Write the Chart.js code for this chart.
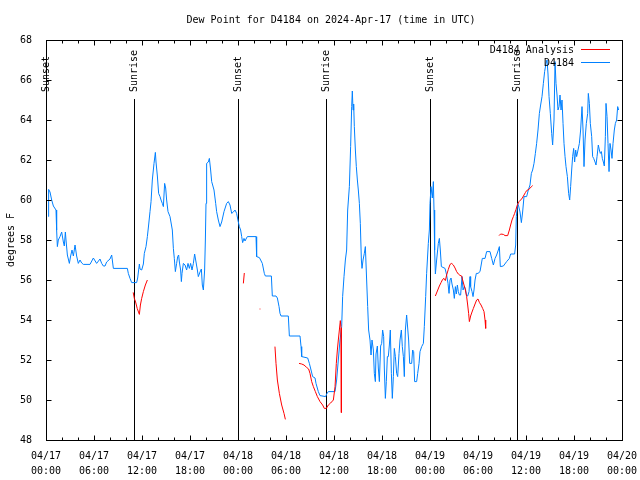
<!DOCTYPE html>
<html><head><meta charset="utf-8">
<script src="https://cdn.jsdelivr.net/npm/chart.js@4.4.1/dist/chart.umd.min.js"></script>
<style>html,body{margin:0;padding:0;background:#fff;}canvas{display:block;}</style>
</head><body>
<canvas id="c" width="640" height="480"></canvas>
<script>
const TITLE = 'Dew Point for D4184 on 2024-Apr-17 (time in UTC)';
const Y_LABEL = 'degrees F';
const xTickDates = ['04/17','04/17','04/17','04/17','04/18','04/18','04/18','04/18','04/19','04/19','04/19','04/19','04/20'];
const xTickTimes = ['00:00','06:00','12:00','18:00','00:00','06:00','12:00','18:00','00:00','06:00','12:00','18:00','00:00'];
const eventHours = [0.05, 11.04, 24.04, 35.04, 48.04, 58.9];
const eventLabels = ['Sunset','Sunrise','Sunset','Sunrise','Sunset','Sunrise'];
const seriesNames = ['D4184 Analysis', 'D4184'];

// hours since 04/17 00:00 UTC
const blueHours = [
0.29,0.33,0.5,0.71,0.92,1.25,1.33,1.42,1.54,1.75,1.96,2.17,2.29,2.42,2.5,2.67,2.92,3.08,3.25,3.42,3.63,3.83,4.04,4.25,4.46,4.67,5.5,5.92,6.33,6.75,6.96,7.17,7.38,7.58,8.0,8.21,8.42,10.17,10.29,10.5,10.71,11.33,11.46,11.67,11.75,11.96,12.17,12.29,12.5,12.67,12.83,13.0,13.13,13.29,13.5,13.67,13.75,13.92,14.08,14.25,14.38,14.54,14.67,14.83,14.96,15.08,15.25,15.5,15.79,15.92,16.04,16.17,16.33,16.46,16.58,16.67,16.83,16.92,17.0,17.17,17.38,17.58,17.75,17.92,18.08,18.25,18.42,18.58,18.75,18.92,19.04,19.25,19.42,19.54,19.67,19.83,19.92,20.0,20.08,20.29,20.42,20.58,20.71,20.83,21.0,21.21,21.33,21.54,21.75,21.96,22.25,22.58,22.79,23.0,23.21,23.42,23.63,23.83,24.04,24.17,24.33,24.46,24.58,24.75,24.88,25.0,25.17,26.25,26.33,26.67,26.83,27.04,27.29,27.42,28.17,28.29,28.75,28.92,29.13,29.25,29.38,30.29,30.42,31.75,31.88,31.96,32.71,32.92,33.13,33.33,33.63,33.75,34.04,34.25,34.96,35.08,35.29,36.13,36.33,36.54,36.75,36.96,37.08,37.25,37.42,37.58,37.71,37.92,38.08,38.21,38.29,38.38,38.46,38.54,38.67,38.79,38.92,39.04,39.17,39.29,39.42,39.5,39.63,39.79,39.92,40.08,40.21,40.33,40.5,40.63,40.75,40.92,41.04,41.17,41.25,41.42,41.54,41.67,41.83,41.96,42.08,42.21,42.29,42.42,42.54,42.67,42.79,42.92,43.04,43.17,43.29,43.42,43.54,43.67,43.83,43.96,44.13,44.25,44.42,44.54,44.67,44.79,44.92,45.08,45.21,45.33,45.46,45.71,45.83,45.96,46.08,46.33,46.46,46.63,46.75,46.96,47.17,47.29,47.46,47.58,47.79,47.92,48.0,48.13,48.29,48.42,48.5,48.58,48.67,48.83,49.04,49.17,49.29,49.42,49.88,50.08,50.25,50.38,50.5,50.63,50.75,50.92,51.04,51.17,51.29,51.42,51.54,51.67,51.83,52.0,52.13,52.29,52.42,52.58,52.71,52.88,53.0,53.08,53.25,53.38,53.5,53.63,53.79,54.0,54.25,54.54,54.88,55.08,55.5,55.71,55.92,56.13,56.33,56.54,56.67,56.79,57.17,57.58,57.92,58.08,58.58,58.71,58.79,58.96,59.08,59.25,59.42,59.58,59.75,60.08,60.29,60.5,60.67,60.83,61.0,61.17,61.33,61.5,61.67,61.83,62.0,62.17,62.33,62.5,62.63,62.75,62.88,63.04,63.21,63.33,63.5,63.63,63.75,63.88,64.0,64.13,64.25,64.38,64.5,64.63,64.75,64.88,65.0,65.17,65.33,65.46,65.58,65.71,65.83,65.96,66.08,66.21,66.33,66.5,66.67,66.83,67.0,67.13,67.25,67.38,67.54,67.71,67.79,67.92,68.04,68.21,68.33,68.46,68.63,68.75,68.88,69.04,69.17,69.29,69.42,69.54,69.67,69.79,69.92,70.0,70.13,70.25,70.38,70.5,70.63,70.75,70.88,71.04,71.17,71.33,71.46,71.58
];
const blueValues = [
59.17,60.53,60.4,60.0,59.7,59.5,58.5,57.67,58.0,58.17,58.4,57.9,57.7,58.4,58.0,57.25,56.83,57.2,57.5,57.2,57.75,57.2,56.83,57.0,56.85,56.78,56.78,57.1,56.83,57.05,56.83,56.7,56.7,56.9,57.05,57.25,56.58,56.58,56.33,56.08,55.87,55.87,56.1,56.8,56.55,56.5,56.8,57.33,57.67,58.17,58.75,59.42,59.92,61.0,61.83,62.38,61.9,61.2,60.33,60.17,60.0,59.83,59.67,60.83,60.6,60.0,59.42,59.17,58.5,57.58,57.08,56.42,56.83,57.17,57.25,56.9,56.5,55.92,56.33,56.83,56.75,56.5,56.83,56.58,56.83,56.5,56.83,57.3,56.9,56.5,56.17,56.4,56.55,55.75,55.5,56.5,58.0,59.83,61.83,61.9,62.08,61.5,60.92,60.75,60.5,59.83,59.42,59.0,58.67,58.9,59.42,59.83,59.92,59.75,59.33,59.4,59.5,59.33,58.9,58.67,58.5,58.17,57.87,58.08,57.95,58.05,58.17,58.17,57.17,57.12,57.0,56.83,56.33,56.2,56.2,55.2,55.2,55.1,54.67,54.33,54.2,54.2,53.2,53.2,52.67,52.17,52.1,51.83,51.5,51.17,51.1,50.83,50.42,50.22,50.17,50.3,50.42,50.42,51.0,52.0,53.0,53.67,55.17,56.17,57.0,57.5,59.5,60.67,62.67,64.67,65.45,64.5,64.8,63.67,62.5,61.67,61.0,60.5,59.83,58.83,57.0,56.58,57.0,57.33,57.67,56.0,54.67,53.5,53.0,52.25,53.0,52.5,51.33,50.92,52.3,52.7,51.6,50.92,52.7,52.83,53.5,53.17,51.6,50.08,50.92,52.17,52.17,52.75,53.5,51.33,50.08,51.17,52.58,52.17,51.33,51.17,52.33,53.0,53.5,52.67,52.17,51.17,53.5,54.25,53.6,53.0,51.83,51.83,52.5,52.42,50.92,50.92,51.33,51.83,52.42,52.67,52.83,53.67,55.17,56.33,57.83,58.5,59.83,60.67,60.1,60.92,59.5,57.5,56.3,57.0,57.83,58.08,57.5,56.67,56.58,56.25,55.83,55.33,56.0,56.1,55.8,55.5,55.08,55.67,55.3,55.75,55.42,55.25,55.25,56.17,55.5,55.67,55.58,55.2,55.2,55.42,56.17,55.67,55.42,55.17,55.5,56.0,56.33,56.33,56.42,57.08,57.08,57.42,57.42,57.08,56.75,57.08,57.25,57.5,57.67,56.67,56.7,56.92,57.08,57.3,57.3,57.75,59.17,59.83,59.7,59.4,58.87,59.4,60.17,60.17,60.5,60.75,61.33,61.5,61.83,62.33,62.83,63.5,64.33,64.75,65.17,65.83,66.42,66.83,67.0,66.3,65.17,64.33,63.33,62.75,64.0,66.92,65.83,65.25,64.5,64.67,65.25,64.5,65.0,63.83,62.83,62.17,61.67,61.17,60.33,60.0,60.67,61.5,62.17,62.58,61.9,62.5,62.17,62.5,62.83,63.5,64.67,63.5,61.67,63.0,63.83,64.33,65.33,64.83,63.83,63.17,62.17,62.08,61.9,61.75,62.17,62.75,62.5,62.33,62.42,62.08,61.9,61.7,63.17,64.83,64.17,62.83,61.42,62.83,62.5,62.08,62.83,63.5,63.83,64.0,64.67,64.5
];

// null values separate the analysis segments
const redHours = [
10.9,11.04,11.2,11.4,11.67,11.8,11.96,12.17,12.42,12.67, 13.0,
24.67,24.79, 25.5,
26.7,26.8, 27.5,
28.62,28.75,28.92,29.17,29.46,29.75,29.92, 30.5,
31.63,31.96,32.25,32.58,32.83,33.0,33.21,33.42,33.67,33.92,34.25,34.58,34.79,35.04,35.29,35.58,35.92,36.13,36.29,36.42,36.54,36.67,36.79,36.88,36.92, 40.0,
48.67,48.92,49.17,49.38,49.58,49.75,49.92,50.08,50.29,50.5,50.71,50.92,51.13,51.33,51.54,51.75,51.96,52.08,52.25,52.42,52.58,52.71,52.83,52.92,53.08,53.25,53.42,53.63,53.83,54.0,54.17,54.38,54.58,54.75,54.88,54.96, 56.0,
56.63,56.83,57.17,57.38,57.71,57.92,58.08,58.25,58.42,58.58,58.75,58.92,59.13,59.33,59.54,59.75,59.92,60.08,60.29,60.5,60.67,60.83
];
const redValues = [
55.38,55.08,54.9,54.58,54.28,54.75,55.08,55.42,55.75,56.0, null,
55.83,56.35, null,
54.55,54.55, null,
52.67,51.83,51.0,50.33,49.75,49.33,49.03, null,
51.83,51.8,51.75,51.63,51.55,51.33,50.92,50.67,50.42,50.17,49.92,49.75,49.58,49.58,49.75,49.85,50.0,50.67,51.83,52.5,53.0,53.5,53.97,53.6,49.37, null,
55.2,55.45,55.7,55.87,56.03,56.08,55.97,56.25,56.53,56.78,56.83,56.75,56.6,56.42,56.3,56.23,56.2,56.0,55.75,55.5,55.17,54.75,54.33,53.92,54.2,54.4,54.58,54.8,55.0,55.05,54.88,54.75,54.58,54.42,54.0,53.58, null,
58.22,58.3,58.28,58.22,58.22,58.5,58.75,59.0,59.17,59.33,59.53,59.75,59.92,60.0,60.1,60.25,60.37,60.47,60.52,60.58,60.67,60.72
];

const FONT = 'DejaVu Sans Mono';
Chart.defaults.font.family = FONT;
Chart.defaults.font.size = 10;
Chart.defaults.color = '#000';

const overlay = {
  id: 'overlay',
  beforeDatasetsDraw(chart) {
    const ctx = chart.ctx, a = chart.chartArea, xs = chart.scales.x;
    ctx.save();
    ctx.strokeStyle = '#000';
    ctx.lineWidth = 1;
    ctx.font = '10px ' + FONT;
    ctx.fillStyle = '#000';
    eventHours.forEach((h, i) => {
      const px = Math.round(xs.getPixelForValue(h)) + 0.5;
      ctx.beginPath();
      ctx.moveTo(px, 99);
      ctx.lineTo(px, a.bottom);
      ctx.stroke();
      ctx.save();
      ctx.translate(px, 92);
      ctx.rotate(-Math.PI / 2);
      ctx.textAlign = 'left';
      ctx.textBaseline = 'middle';
      ctx.fillText(eventLabels[i], 0, 0);
      ctx.restore();
    });
    ctx.restore();
  },
  afterDatasetsDraw(chart) {
    const ctx = chart.ctx, a = chart.chartArea, xs = chart.scales.x, ys = chart.scales.y;
    ctx.save();
    ctx.strokeStyle = '#000';
    ctx.lineWidth = 1;
    const L = Math.round(a.left) + 0.5, R = Math.round(a.right) + 0.5;
    const T = Math.round(a.top) + 0.5, B = Math.round(a.bottom) + 0.5;
    ctx.beginPath();
    for (let h = 0; h <= 72; h += 2) {
      const px = Math.round(xs.getPixelForValue(h)) + 0.5;
      const len = (h % 6 === 0) ? 5 : 3;
      ctx.moveTo(px, B); ctx.lineTo(px, B - len);
      ctx.moveTo(px, T); ctx.lineTo(px, T + len);
    }
    for (let v = 48; v <= 68; v += 2) {
      const py = Math.round(ys.getPixelForValue(v)) + 0.5;
      ctx.moveTo(L, py); ctx.lineTo(L + 5, py);
      ctx.moveTo(R, py); ctx.lineTo(R - 5, py);
    }
    ctx.stroke();
    ctx.strokeRect(L, T, R - L, B - T);
    // legend
    ctx.font = '10px ' + FONT;
    ctx.textAlign = 'right';
    ctx.textBaseline = 'middle';
    ctx.fillStyle = '#000';
    chart.data.datasets.forEach((ds, i) => {
      const y = 50 + i * 13;
      ctx.fillText(ds.label, 574, y);
      ctx.strokeStyle = ds.borderColor;
      ctx.beginPath();
      ctx.moveTo(581, Math.round(y) - 0.5);
      ctx.lineTo(610, Math.round(y) - 0.5);
      ctx.stroke();
    });
    // title
    ctx.textAlign = 'center';
    ctx.fillStyle = '#000';
    ctx.fillText(TITLE, 331, 20);
    ctx.restore();
  }
};

new Chart(document.getElementById('c'), {
  type: 'line',
  data: {
    datasets: [
      {
        label: seriesNames[0],
        data: redHours.map((h, i) => ({x: h, y: redValues[i]})),
        borderColor: '#ff0000',
        borderWidth: 1,
        pointRadius: 0,
        tension: 0,
        spanGaps: false
      },
      {
        label: seriesNames[1],
        data: blueHours.map((h, i) => ({x: h, y: blueValues[i]})),
        borderColor: '#0080ff',
        borderWidth: 1,
        pointRadius: 0,
        tension: 0,
        spanGaps: false
      }
    ]
  },
  options: {
    responsive: false,
    animation: false,
    events: [],
    layout: {padding: {top: 40, right: 18, left: 0, bottom: 0}},
    plugins: {legend: {display: false}, title: {display: false}, tooltip: {enabled: false}},
    scales: {
      x: {
        type: 'linear', min: 0, max: 72,
        grid: {display: false}, border: {display: false},
        ticks: {
          stepSize: 6, autoSkip: false, maxRotation: 0, minRotation: 0, padding: 1,
          font: {family: FONT, size: 10, lineHeight: 1.5},
          callback: (v) => { const i = Math.round(v / 6); return [xTickDates[i], xTickTimes[i]]; }
        },
        afterFit: (s) => { s.height = 40; s.paddingLeft = 0; s.paddingRight = 0; }
      },
      y: {
        type: 'linear', min: 48, max: 68,
        grid: {display: false}, border: {display: false},
        ticks: {stepSize: 2, padding: 6, font: {family: FONT, size: 10}},
        title: {display: true, text: Y_LABEL, padding: {top: 5, bottom: 0}, font: {family: FONT, size: 10}},
        afterFit: (s) => { s.width = 46; s.paddingTop = 0; s.paddingBottom = 0; }
      }
    }
  },
  plugins: [overlay]
});
</script>
</body></html>
